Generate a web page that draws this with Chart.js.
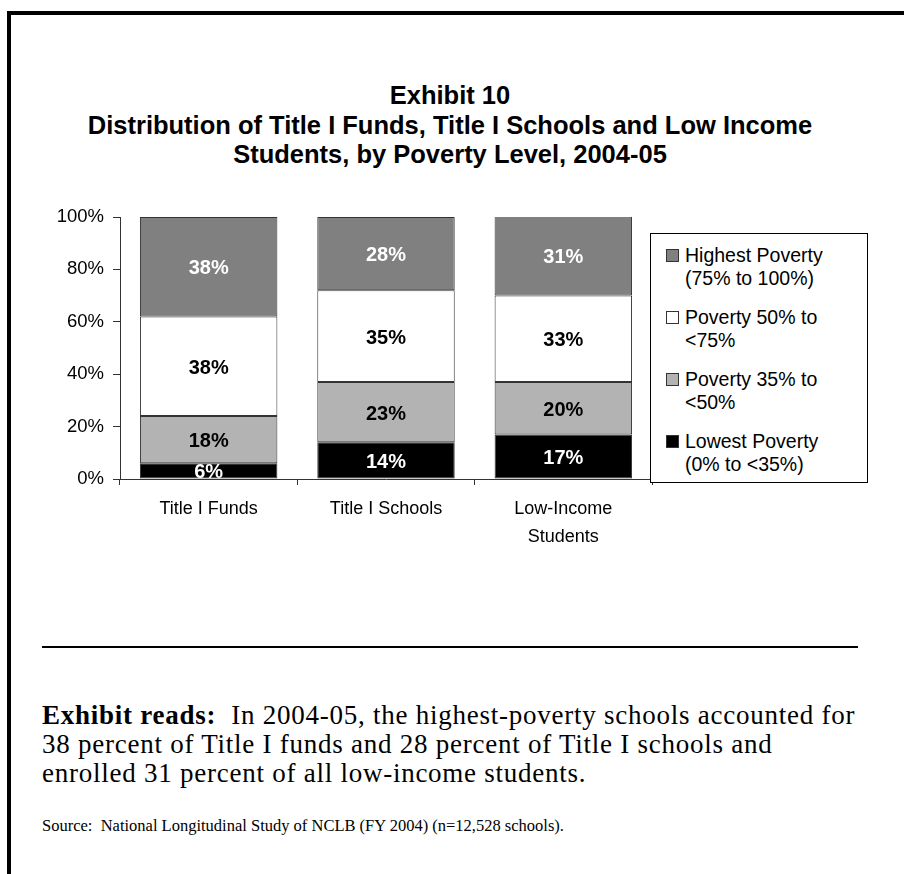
<!DOCTYPE html>
<html>
<head>
<meta charset="utf-8">
<title>Exhibit 10</title>
<script src="https://cdn.jsdelivr.net/npm/chart.js@4.4.0/dist/chart.umd.min.js"></script>
<style>
  html, body { margin: 0; padding: 0; background: #fff; }
  body { width: 904px; height: 874px; position: relative; overflow: hidden; }
  .frame {
    position: absolute; left: 7px; top: 11px; right: -10px; bottom: -10px;
    border-top: 4px solid #000; border-left: 4px solid #000;
  }
  .title {
    position: absolute; left: 0; top: 81px; width: 900px; text-align: center;
    font-family: "Liberation Sans", Arial, sans-serif; font-weight: bold; font-size: 25.5px; line-height: 29.5px; color: #000;
  }
  #chartBox { position: absolute; left: 0; top: 0; width: 904px; height: 580px; }
  #legend {
    position: absolute; left: 650px; top: 233px; width: 218px; height: 250px;
    box-sizing: border-box; border: 1px solid #000; background: #fff;
    padding-top: 10px;
    font-family: "Liberation Sans", Arial, sans-serif; font-size: 19.5px; color: #000;
  }
  #legend .item { position: relative; padding-left: 34px; line-height: 23px; margin-bottom: 16px; white-space: nowrap; }
  #legend .swatch {
    position: absolute; left: 15px; top: 5px; width: 11px; height: 11px;
    border: 1px solid #333;
  }
  .rule { position: absolute; left: 42px; top: 646px; width: 816px; height: 2px; background: #000; }
  .reads {
    position: absolute; left: 42px; top: 701px; width: 860px; white-space: nowrap;
    font-family: "Liberation Serif", "Times New Roman", serif; font-size: 27px; letter-spacing: 0.75px; line-height: 29px; color: #000;
  }
  .source {
    position: absolute; left: 42px; top: 816px; white-space: nowrap;
    font-family: "Liberation Serif", "Times New Roman", serif; font-size: 16.5px; line-height: 20px; color: #000;
  }
</style>
</head>
<body>
<div class="frame"></div>
<div class="title">Exhibit 10<br>Distribution of Title I Funds, Title I Schools and Low Income<br>Students, by Poverty Level, 2004-05</div>
<div id="chartBox"><canvas id="myChart"></canvas></div>
<div id="legend"></div>
<div class="rule"></div>
<div class="reads"><b>Exhibit reads:</b>&nbsp; In 2004-05, the highest-poverty schools accounted for<br>38 percent of Title I funds and 28 percent of Title I schools and<br>enrolled 31 percent of all low-income students.</div>
<div class="source">Source:&nbsp; National Longitudinal Study of NCLB (FY 2004) (n=12,528 schools).</div>

<script>
// categories along the x axis
const categories = ['Title I Funds', 'Title I Schools', ['Low-Income', 'Students']];

// percent of each total, bottom segment first
const lowestPoverty = [6, 14, 17];
const poverty35to50 = [18, 23, 20];
const poverty50to75 = [38, 35, 33];
const highestPoverty = [38, 28, 31];

const seriesNames = [
  ['Lowest Poverty', '(0% to <35%)'],
  ['Poverty 35% to', '<50%'],
  ['Poverty 50% to', '<75%'],
  ['Highest Poverty', '(75% to 100%)']
];
const seriesColors = ['#000000', '#b3b3b3', '#ffffff', '#808080'];
const labelColors = ['#ffffff', '#000000', '#000000', '#ffffff'];

const yTicks = [0, 20, 40, 60, 80, 100];

const sansFont = '"Liberation Sans", Arial, sans-serif';

// value labels in the middle of every segment
const segmentLabels = {
  id: 'segmentLabels',
  afterDatasetsDraw(chart) {
    const ctx = chart.ctx;
    ctx.save();
    ctx.font = 'bold 20px ' + sansFont;
    ctx.textAlign = 'center';
    ctx.textBaseline = 'middle';
    chart.data.datasets.forEach((ds, i) => {
      const meta = chart.getDatasetMeta(i);
      meta.data.forEach((bar, j) => {
        const p = bar.getProps(['x', 'y', 'base'], true);
        ctx.fillStyle = labelColors[i];
        ctx.fillText(ds.data[j] + '%', p.x, (p.y + p.base) / 2 + 2);
      });
    });
    ctx.restore();
  }
};

const datasets = [lowestPoverty, poverty35to50, poverty50to75, highestPoverty].map((vals, i) => ({
  label: seriesNames[i].join(' '),
  data: vals,
  backgroundColor: seriesColors[i],
  borderColor: '#333333',
  borderWidth: 1,
  borderSkipped: false,
  categoryPercentage: 1,
  barPercentage: 0.775
}));

const ctx = document.getElementById('myChart').getContext('2d');
const myChart = new Chart(ctx, {
  type: 'bar',
  data: { labels: categories, datasets: datasets },
  options: {
    responsive: true,
    maintainAspectRatio: false,
    animation: false,
    layout: { padding: { left: 0, right: 252, top: 217, bottom: 0 } },
    plugins: {
      legend: { display: false },
      tooltip: { enabled: false }
    },
    scales: {
      x: {
        stacked: true,
        grid: { drawOnChartArea: false, tickLength: 6, color: '#333', offset: true },
        border: { color: '#333', width: 1 },
        ticks: { color: '#000', font: { family: sansFont, size: 18, lineHeight: 1.55 }, padding: 10, maxRotation: 0 },
        afterFit: s => { s.height = 101; }
      },
      y: {
        stacked: true,
        min: 0,
        max: 100,
        grid: { drawOnChartArea: false, tickLength: 7, color: '#333' },
        border: { color: '#333', width: 1 },
        afterBuildTicks: s => { s.ticks = yTicks.map(v => ({ value: v })); },
        ticks: {
          color: '#000',
          font: { family: sansFont, size: 18.5 },
          padding: 9,
          callback: v => v + '%'
        },
        afterFit: s => { s.width = 120; }
      }
    }
  },
  plugins: [segmentLabels]
});

// legend box, highest poverty listed first
function genLegend(chart) {
  let htmlCode = '';
  for (let i = chart.data.datasets.length - 1; i >= 0; i--) {
    htmlCode += `<div class="item"><span class="swatch" style="background:` + seriesColors[i] + `"></span>` +
      seriesNames[i][0] + `<br>` + seriesNames[i][1].replace('<', '&lt;') + `</div>`;
  }
  document.getElementById('legend').innerHTML = htmlCode;
}
genLegend(myChart);
</script>
</body>
</html>
